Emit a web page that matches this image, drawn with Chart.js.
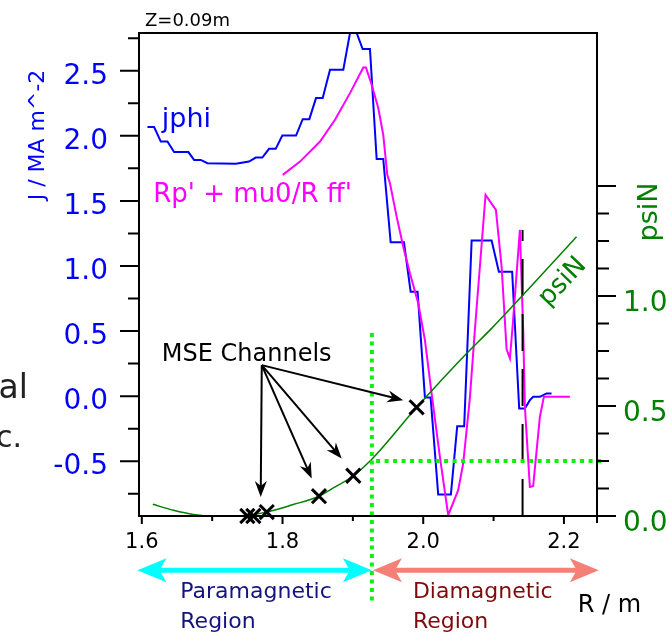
<!DOCTYPE html>
<html>
<head>
<meta charset="utf-8">
<script src="https://cdn.jsdelivr.net/npm/chart.js@4.4.1/dist/chart.umd.min.js"></script>
<style>
  html, body { margin: 0; padding: 0; background: #fff; }
</style>
</head>
<body>
<canvas id="chart" width="669" height="634"></canvas>
<script>
// tick labels
const rTicks = [1.6, 1.8, 2.0, 2.2];
const jTicks = [-0.5, 0.0, 0.5, 1.0, 1.5, 2.0, 2.5];
const psiTicks = [0.0, 0.5, 1.0];

// jphi (blue, J / MA m^-2)
const jphiR = [1.608, 1.6175, 1.627, 1.6364, 1.6459, 1.6662, 1.6743, 1.6838, 1.6932, 1.7335,
  1.7524, 1.7619, 1.7713, 1.7808, 1.7903, 1.7997, 1.8192, 1.8287, 1.8381, 1.8476,
  1.8571, 1.8675, 1.8864, 1.8959, 1.9054, 1.9139, 1.9243, 1.9338, 1.9432, 1.9537,
  1.9726, 1.9821, 1.992, 2.0024, 2.0105, 2.0213, 2.0393, 2.0483, 2.0582, 2.0688,
  2.0972, 2.1075, 2.1264, 2.1364, 2.1445, 2.1516, 2.1563, 2.1658, 2.1753, 2.1824];
const jphiJ = [2.067, 2.067, 1.956, 1.956, 1.875, 1.875, 1.815, 1.815, 1.79, 1.785,
  1.802, 1.833, 1.833, 1.9, 1.9, 2.002, 2.002, 2.128, 2.128, 2.29,
  2.29, 2.508, 2.508, 2.79, 2.79, 2.667, 2.667, 1.821, 1.821, 1.182,
  1.182, 0.802, 0.802, -0.01, -0.01, -0.756, -0.756, -0.231, -0.231, 1.195,
  1.195, 0.956, 0.956, -0.095, -0.095, -0.031, -0.005, -0.005, 0.021, 0.021];

// Rp' + mu0/R ff' (magenta)
const ffR = [1.8003, 1.8249, 1.8533, 1.8746, 1.8959, 1.9148, 1.9186, 1.9267, 1.9361, 1.9432,
  1.9489, 1.9527, 1.9622, 1.9716, 1.9811, 1.9929, 2.0024, 2.0119, 2.0237, 2.0355,
  2.0497, 2.0568, 2.0663, 2.0734, 2.0886, 2.1033, 2.1114, 2.1185, 2.1232, 2.127,
  2.1374, 2.1421, 2.1445, 2.1516, 2.1563, 2.1658, 2.1715, 2.2084];
const ffJ = [1.70, 1.802, 1.956, 2.123, 2.328, 2.525, 2.525, 2.392, 2.213, 2.008,
  1.70, 1.636, 1.379, 1.148, 0.944, 0.713, 0.431, 0.021, -0.467, -0.915,
  -0.723, -0.518, -0.015, 0.508, 1.546, 1.431, 0.995, 0.36, 0.29, 0.533,
  1.277, 0.508, -0.082, -0.698, -0.69, -0.159, -0.005, -0.005];

// psiN (green, right axis)
const psiR = [1.6156, 1.6449, 1.6733, 1.7017, 1.7396, 1.7776, 1.8153, 1.8518, 1.8671, 1.9006,
  1.927, 1.9906, 2.0237, 2.0616, 2.0972, 2.1398, 2.2179];
const psiV = [0.053, 0.026, 0.007, 0.0, 0.0, 0.018, 0.052, 0.09, 0.118, 0.183,
  0.258, 0.494, 0.61, 0.739, 0.853, 0.998, 1.27];

// MSE channels (on psiN curve)
const mseR = [1.750, 1.7585, 1.7776, 1.8518, 1.9006, 1.9906];
const msePsi = [0.0, 0.0, 0.018, 0.09, 0.183, 0.494];

// separatrix marker
const sepR = [2.1412, 2.1412];
const sepJ = [-0.921, 1.277];

const xy = (xs, ys) => xs.map((x, i) => ({ x: x, y: ys[i] }));

Chart.defaults.font.family = '"DejaVu Sans"';

function arrowHead(ctx, x0, y0, x1, y1, len, hw, notch) {
    const ang = Math.atan2(y1 - y0, x1 - x0);
    ctx.save();
    ctx.translate(x1, y1);
    ctx.rotate(ang);
    ctx.beginPath();
    ctx.moveTo(0, 0);
    ctx.lineTo(-len, -hw);
    ctx.lineTo(-len + notch, 0);
    ctx.lineTo(-len, hw);
    ctx.closePath();
    ctx.fill();
    ctx.restore();
}

function bigArrow(ctx, xa, xb, y, color) {
    ctx.fillStyle = color;
    ctx.strokeStyle = color;
    ctx.lineWidth = 5;
    ctx.beginPath();
    ctx.moveTo(xa + 20, y);
    ctx.lineTo(xb - 20, y);
    ctx.stroke();
    arrowHead(ctx, xb, y, xa, y, 29, 12, 7);
    arrowHead(ctx, xa, y, xb, y, 29, 12, 7);
}

// keep the plot box where the reference has it
function noPad(s) {
    s.paddingTop = 0;
    s.paddingBottom = 0;
    s.paddingLeft = 0;
    s.paddingRight = 0;
}

const overlay = {
    id: 'overlay',
    afterDatasetsDraw(chart) {
        const { ctx, chartArea: a, scales } = chart;
        const X = v => scales.x.getPixelForValue(v);
        const J = v => scales.y.getPixelForValue(v);
        const P = v => scales.y2.getPixelForValue(v);
        ctx.save();

        // dotted boundary lines
        ctx.strokeStyle = '#11ee11';
        ctx.lineWidth = 4;
        ctx.setLineDash([4, 4.5]);
        ctx.beginPath();
        ctx.moveTo(X(1.927), J(0.485));
        ctx.lineTo(X(1.927), J(-1.57));
        ctx.stroke();
        ctx.beginPath();
        ctx.moveTo(X(1.933), P(0.25));
        ctx.lineTo(X(2.253), P(0.25));
        ctx.stroke();
        ctx.setLineDash([]);

        // MSE arrows
        ctx.strokeStyle = '#000';
        ctx.fillStyle = '#000';
        ctx.lineWidth = 2;
        const ox = X(1.7705), oy = J(0.238);
        [[1.769, -0.775], [1.8415, -0.633], [1.8841, -0.479], [1.9716, -0.031]].forEach(t => {
            const tx = X(t[0]), ty = J(t[1]);
            const ang = Math.atan2(ty - oy, tx - ox);
            ctx.beginPath();
            ctx.moveTo(ox, oy);
            ctx.lineTo(tx - 10 * Math.cos(ang), ty - 10 * Math.sin(ang));
            ctx.stroke();
            arrowHead(ctx, ox, oy, tx, ty, 16, 6, 5);
        });

        // region arrows
        bigArrow(ctx, X(1.5938), X(1.927), J(-1.338), '#00ffff');
        bigArrow(ctx, X(1.9286), X(2.2496), J(-1.338), '#f58078');

        // texts
        ctx.textAlign = 'left';
        ctx.textBaseline = 'alphabetic';
        ctx.fillStyle = '#000';
        ctx.font = '24px "DejaVu Sans"';
        ctx.fillText('MSE Channels', X(1.6284), J(0.272));
        ctx.font = '18px "DejaVu Sans"';
        ctx.fillText('Z=0.09m', a.left + 6, a.top - 7);
        ctx.font = '24px "DejaVu Sans"';
        ctx.fillText('R / m', X(2.2197), J(-1.66));

        ctx.fillStyle = '#0000ff';
        ctx.font = '27px "DejaVu Sans"';
        ctx.fillText('jphi', X(1.6284), J(2.064));
        ctx.fillStyle = '#ff00ff';
        ctx.font = '26px "DejaVu Sans"';
        ctx.fillText("Rp' + mu0/R ff'", X(1.6163), J(1.495));

        ctx.font = '22px "DejaVu Sans"';
        ctx.fillStyle = '#14147f';
        ctx.fillText('Paramagnetic', X(1.6547), J(-1.554));
        ctx.fillText('Region', X(1.6547), J(-1.785));
        ctx.fillStyle = '#7f0a0a';
        ctx.fillText('Diamagnetic', X(1.9853), J(-1.554));
        ctx.fillText('Region', X(1.9853), J(-1.785));

        // psiN label along the curve
        ctx.save();
        ctx.translate(X(2.1984), P(1.064));
        ctx.rotate(-46 * Math.PI / 180);
        ctx.textAlign = 'center';
        ctx.textBaseline = 'middle';
        ctx.fillStyle = '#007f00';
        ctx.font = '26px "DejaVu Sans"';
        ctx.fillText('psiN', 0, 0);
        ctx.restore();

        // axis titles
        ctx.save();
        ctx.translate(44, 135);
        ctx.rotate(-Math.PI / 2);
        ctx.textAlign = 'center';
        ctx.fillStyle = '#0000ff';
        ctx.font = '22px "DejaVu Sans"';
        ctx.fillText('J / MA m^-2', 0, 0);
        ctx.restore();

        ctx.save();
        ctx.translate(657, 212);
        ctx.rotate(-Math.PI / 2);
        ctx.textAlign = 'center';
        ctx.fillStyle = '#007f00';
        ctx.font = '27px "DejaVu Sans"';
        ctx.fillText('psiN', 0, 0);
        ctx.restore();

        // neighbouring panel text cut at the left edge
        ctx.textAlign = 'right';
        ctx.fillStyle = '#222';
        ctx.font = '33px "DejaVu Sans"';
        ctx.fillText('al', 28, 398);
        ctx.font = '30px "DejaVu Sans"';
        ctx.fillText('c.', 22, 447);

        // frame and tick marks
        ctx.strokeStyle = '#000';
        ctx.lineWidth = 2;
        ctx.strokeRect(a.left, a.top, a.right - a.left, a.bottom - a.top);
        ctx.beginPath();
        for (let k = -3; k <= 11; k++) {
            const py = J(k * 0.25);
            const len = k % 2 === 0 ? 19 : 11;
            ctx.moveTo(a.left, py);
            ctx.lineTo(a.left - len, py);
        }
        for (let k = 0; k <= 12; k++) {
            const py = P(k * 0.125);
            const len = k % 4 === 0 ? 19 : 12;
            ctx.moveTo(a.right, py);
            ctx.lineTo(a.right + len, py);
        }
        for (let k = 16; k <= 22; k++) {
            const px = X(k / 10);
            const len = k % 2 === 0 ? 8 : 5;
            ctx.moveTo(px, a.bottom);
            ctx.lineTo(px, a.bottom + len);
        }
        ctx.moveTo(a.right, a.bottom);
        ctx.lineTo(a.right, a.bottom + 7);
        ctx.stroke();
        ctx.restore();
    }
};

const tickFmt = v => Number(v).toFixed(1);

new Chart(document.getElementById('chart'), {
    type: 'line',
    data: {
        datasets: [
            {
                data: xy(mseR, msePsi),
                yAxisID: 'y2',
                showLine: false,
                pointStyle: 'crossRot',
                pointRadius: 10,
                borderWidth: 3,
                borderColor: '#000',
                clip: false
            },
            {
                data: xy(psiR, psiV),
                yAxisID: 'y2',
                borderColor: '#007f00',
                borderWidth: 1.5,
                pointRadius: 0,
                cubicInterpolationMode: 'monotone',
                fill: false
            },
            {
                data: xy(sepR, sepJ),
                yAxisID: 'y',
                borderColor: '#000',
                borderWidth: 2,
                borderDash: [37, 18],
                pointRadius: 0,
                fill: false
            },
            {
                data: xy(ffR, ffJ),
                yAxisID: 'y',
                borderColor: '#ff00ff',
                borderWidth: 2,
                pointRadius: 0,
                tension: 0,
                fill: false
            },
            {
                data: xy(jphiR, jphiJ),
                yAxisID: 'y',
                borderColor: '#0000ff',
                borderWidth: 2,
                pointRadius: 0,
                tension: 0,
                fill: false
            }
        ]
    },
    options: {
        responsive: false,
        animation: false,
        layout: { padding: { top: 33, left: 0, right: 0, bottom: 0 } },
        plugins: { legend: { display: false }, tooltip: { enabled: false } },
        scales: {
            x: {
                type: 'linear',
                min: 1.596,
                max: 2.247,
                afterBuildTicks: s => { s.ticks = rTicks.map(v => ({ value: v })); },
                afterFit: s => { s.height = 118; noPad(s); },
                grid: { display: false, drawTicks: false },
                border: { display: false },
                ticks: { callback: tickFmt, color: '#000', font: { size: 21 }, padding: 14, maxRotation: 0, autoSkip: false }
            },
            y: {
                position: 'left',
                min: -0.921,
                max: 2.79,
                afterBuildTicks: s => { s.ticks = jTicks.map(v => ({ value: v })); },
                afterFit: s => { s.width = 139; noPad(s); },
                grid: { display: false, drawTicks: false },
                border: { display: false },
                ticks: { callback: tickFmt, color: '#0000ff', font: { size: 28 }, padding: 31, labelOffset: 6, autoSkip: false }
            },
            y2: {
                position: 'right',
                min: 0,
                max: 2.196,
                afterBuildTicks: s => { s.ticks = psiTicks.map(v => ({ value: v })); },
                afterFit: s => { s.width = 72; noPad(s); },
                grid: { display: false, drawTicks: false },
                border: { display: false },
                ticks: { callback: tickFmt, color: '#008000', font: { size: 28 }, padding: 26, labelOffset: 8, autoSkip: false }
            }
        }
    },
    plugins: [overlay]
});
</script>
</body>
</html>
